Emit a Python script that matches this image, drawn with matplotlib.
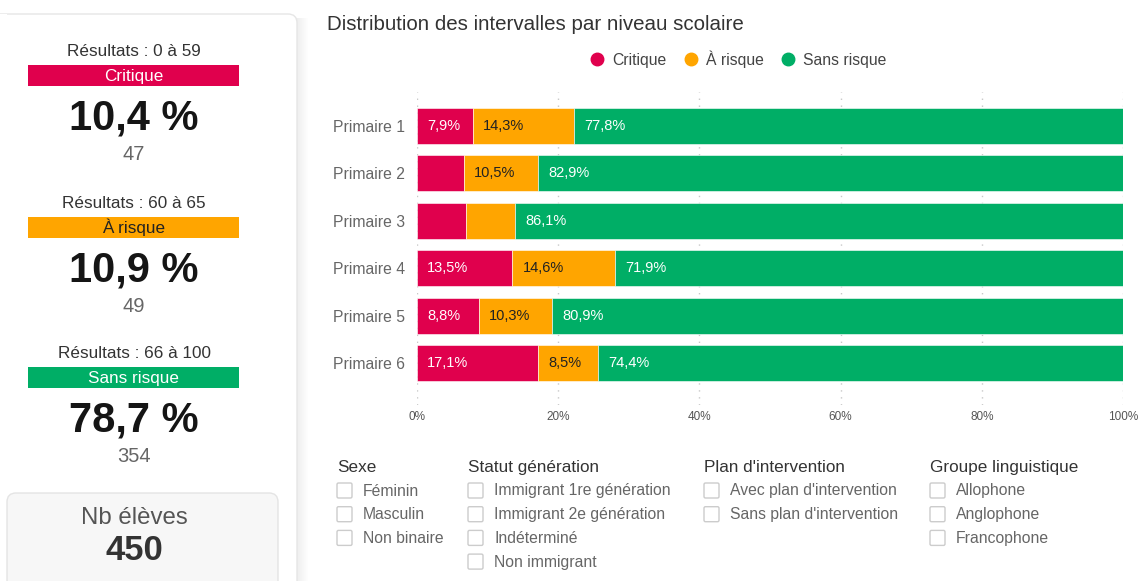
import matplotlib
matplotlib.use("Agg")
import matplotlib.pyplot as plt
from matplotlib.patches import FancyBboxPatch, Rectangle
from matplotlib.lines import Line2D

plt.rcParams['font.family'] = ['Liberation Sans', 'DejaVu Sans']

# couleurs des intervalles
ROUGE = '#E0004D'
ORANGE = '#FFA500'
VERT = '#00AE66'

# donnees par niveau scolaire (%)
niveaux = ['Primaire 1', 'Primaire 2', 'Primaire 3', 'Primaire 4', 'Primaire 5', 'Primaire 6']
critique = [7.9, 6.6, 6.9, 13.5, 8.8, 17.1]
a_risque = [14.3, 10.5, 7.0, 14.6, 10.3, 8.5]
sans_risque = [77.8, 82.9, 86.1, 71.9, 80.9, 74.4]

# resume global (carte de gauche)
resume = [
    ("Résultats : 0 à 59", "Critique", ROUGE, 'white', "10,4 %", "47", 56),
    ("Résultats : 60 à 65", "À risque", ORANGE, '#222222', "10,9 %", "49", 208),
    ("Résultats : 66 à 100", "Sans risque", VERT, 'white', "78,7 %", "354", 358),
]
nb_eleves = 450

filtres = {
    "Sexe": ["Féminin", "Masculin", "Non binaire"],
    "Statut génération": ["Immigrant 1re génération", "Immigrant 2e génération",
                          "Indéterminé", "Non immigrant"],
    "Plan d'intervention": ["Avec plan d'intervention", "Sans plan d'intervention"],
    "Groupe linguistique": ["Allophone", "Anglophone", "Francophone"],
}
filtres_x = [337, 468, 704, 930]

W, H = 1141, 581
fig = plt.figure(figsize=(W / 100, H / 100), dpi=100)
fig.patch.set_facecolor('white')

# axe de fond en pixels
bg = fig.add_axes([0, 0, 1, 1])
bg.set_xlim(0, W)
bg.set_ylim(H, 0)
bg.axis('off')

#--------------------------------------------
# carte de gauche
#--------------------------------------------
for i in range(12):
    bg.add_patch(Rectangle((296 + i, 18), 1, H, color='#dcdcdc', alpha=0.5 * (1 - i / 12), lw=0))
bg.add_patch(FancyBboxPatch((-20, 14), 317, 620, boxstyle="round,pad=0,rounding_size=9",
                            fc='white', ec='#e6e6e6', lw=1))
bg.add_patch(Rectangle((0, 14), 7, 2, color='white', lw=0))

cx = 134
for titre, etiquette, coul, coul_txt, pct, n, base in resume:
    bg.text(cx, base, titre, ha='center', va='baseline', fontsize=12.3, color='#333333')
    bg.add_patch(Rectangle((28, base + 9), 211, 21, color=coul, lw=0))
    bg.text(cx, base + 25, etiquette, ha='center', va='baseline', fontsize=12.3, color=coul_txt)
    bg.text(cx, base + 74, pct, ha='center', va='baseline', fontsize=30, fontweight='bold', color='#151515')
    bg.text(cx, base + 104, n, ha='center', va='baseline', fontsize=14.5, color='#666666')

bg.add_patch(FancyBboxPatch((7, 493), 271, 120, boxstyle="round,pad=0,rounding_size=9",
                            fc='#f7f7f7', ec='#e4e4e4', lw=1))
bg.text(cx, 524, "Nb élèves", ha='center', va='baseline', fontsize=17.3, color='#555555')
bg.text(cx, 560, str(nb_eleves), ha='center', va='baseline', fontsize=25, fontweight='bold', color='#333333')

#--------------------------------------------
# graphique a barres empilees
#--------------------------------------------
bg.text(327, 30, "Distribution des intervalles par niveau scolaire", ha='left', va='baseline',
        fontsize=14.8, color='#333333')

ax = fig.add_axes([417 / W, 1 - 405 / H, 706 / W, 313 / H])
ypos = list(range(len(niveaux)))
series = [("Critique", critique, ROUGE, 'white'),
          ("À risque", a_risque, ORANGE, '#222222'),
          ("Sans risque", sans_risque, VERT, 'white')]

gauche = [0] * len(niveaux)
for nom, vals, coul, coul_txt in series:
    ax.barh(ypos, vals, left=gauche, height=0.76, color=coul, edgecolor='white', linewidth=0.4, zorder=3)
    for y, g, v in zip(ypos, gauche, vals):
        if v >= 7.5:
            ax.text(g + 1.45, y, f"{v:.1f}".replace('.', ',') + '%', ha='left', va='center',
                    fontsize=10.5, color=coul_txt, zorder=4)
    gauche = [g + v for g, v in zip(gauche, vals)]

ax.set_xlim(0, 100)
ax.set_ylim(5 + 0.886, -0.717)
ax.set_yticks(ypos)
ax.set_yticklabels(niveaux, fontsize=11.3, color='#666666')
ax.set_xticks([0, 20, 40, 60, 80, 100])
ax.set_xticklabels([f"{t}%" for t in [0, 20, 40, 60, 80, 100]], fontsize=8.5, color='#555555')
ax.tick_params(axis='y', length=0, pad=8.5)
ax.tick_params(axis='x', length=0, pad=4)
for s in ax.spines.values():
    s.set_visible(False)
ax.grid(axis='x', color='#c8c8c8', linestyle=(0, (1, 4)), linewidth=1, zorder=0)
ax.set_facecolor('none')

handles = [Line2D([], [], marker='o', linestyle='', markersize=9, color=c) for _, _, c, _ in series]
fig.legend(handles, [s[0] for s in series], loc='center', bbox_to_anchor=(734 / W, 1 - 59 / H),
           ncol=3, frameon=False, fontsize=11.3, handletextpad=0.0, columnspacing=0.5,
           labelcolor='#444444')

#--------------------------------------------
# filtres (cases a cocher)
#--------------------------------------------
for (titre, items), x in zip(filtres.items(), filtres_x):
    bg.text(x, 472, titre, ha='left', va='baseline', fontsize=12.3, color='#333333')
    for k, item in enumerate(items):
        base = 495.5 + k * 23.7
        bg.add_patch(FancyBboxPatch((x, base - 12.5), 15, 15, boxstyle="round,pad=0,rounding_size=1.5",
                                    fc='white', ec='#cccccc', lw=1))
        bg.text(x + 26, base, item, ha='left', va='baseline', fontsize=11.3, color='#666666')

fig.savefig("out.png", dpi=100, facecolor='white')
